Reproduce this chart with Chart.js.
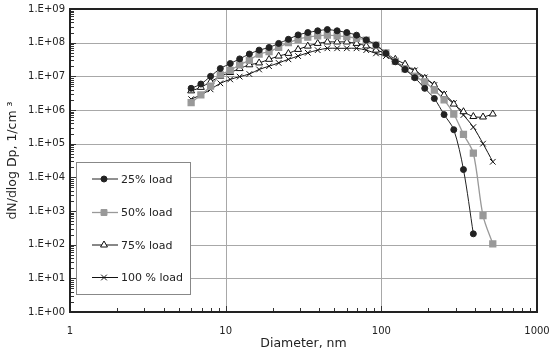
<!DOCTYPE html>
<html>
<head>
<meta charset="utf-8">
<script src="https://cdn.jsdelivr.net/npm/chart.js@4.4.0/dist/chart.umd.min.js"></script>
<style>
  html, body { margin: 0; padding: 0; background: #fff; }
  #wrap { width: 553px; height: 359px; }
</style>
</head>
<body>
<div id="wrap"><canvas id="chart"></canvas></div>
<script>
// particle diameters, nm (same channels for every load)
var diameters = [6.0, 6.93, 8.0, 9.24, 10.7, 12.3, 14.2, 16.4, 19.0, 21.9, 25.3, 29.2, 33.7, 39.0, 45.0, 52.0,
                 60.0, 69.3, 80.0, 92.4, 107, 123, 142, 164, 190, 219, 253, 292, 337, 390, 450, 520];

// dN/dlog Dp, 1/cm3
var load25 = [4.4e6, 5.9e6, 1.0e7, 1.7e7, 2.4e7, 3.3e7, 4.6e7, 6.0e7, 7.2e7, 9.5e7, 1.26e8, 1.7e8, 2.0e8, 2.25e8, 2.45e8, 2.25e8,
              2.0e8, 1.67e8, 1.2e8, 8.5e7, 4.8e7, 2.7e7, 1.6e7, 9.1e6, 4.4e6, 2.2e6, 7.3e5, 2.6e5, 1.7e4, 2.1e2];
var load50 = [1.65e6, 2.8e6, 5.1e6, 1.1e7, 1.5e7, 2.2e7, 3.0e7, 4.6e7, 5.4e7, 7.3e7, 1.0e8, 1.26e8, 1.45e8, 1.6e8, 1.67e8, 1.6e8,
              1.5e8, 1.35e8, 1.2e8, 8.5e7, 5.0e7, 2.8e7, 1.66e7, 1.0e7, 6.9e6, 3.9e6, 2.0e6, 7.6e5, 1.9e5, 5.2e4, 7.3e2, 1.05e2];
var load75 = [3.7e6, 4.7e6, 6.9e6, 1.0e7, 1.3e7, 1.7e7, 2.2e7, 2.5e7, 3.2e7, 4.0e7, 4.8e7, 6.3e7, 7.9e7, 9.5e7, 1.05e8, 1.05e8,
              1.05e8, 9.5e7, 8.0e7, 6.0e7, 4.8e7, 3.2e7, 2.3e7, 1.4e7, 8.7e6, 5.5e6, 2.8e6, 1.5e6, 8.9e5, 6.4e5, 6.2e5, 7.6e5];
var load100 = [2.1e6, 2.8e6, 4.1e6, 6.2e6, 8.1e6, 9.8e6, 1.17e7, 1.6e7, 2.0e7, 2.5e7, 3.2e7, 4.0e7, 5.0e7, 6.0e7, 6.8e7, 6.8e7,
               6.8e7, 6.8e7, 6.0e7, 4.8e7, 4.0e7, 2.7e7, 1.9e7, 1.5e7, 9.3e6, 5.5e6, 3.0e6, 1.6e6, 7.1e5, 3.1e5, 1.0e5, 2.9e4];

var seriesNames = ['25% load', '50% load', '75% load', '100 % load'];

var xTickValues = [1, 10, 100, 1000];
var xTickLabels = ['1', '10', '100', '1000'];
var yTickValues = [1, 10, 100, 1e3, 1e4, 1e5, 1e6, 1e7, 1e8, 1e9];
var yTickLabels = ['1.E+00', '1.E+01', '1.E+02', '1.E+03', '1.E+04', '1.E+05', '1.E+06', '1.E+07', '1.E+08', '1.E+09'];

function toPoints(values) {
    return values.map(function(v, i) { return { x: diameters[i], y: v }; });
}

var FONT = 'DejaVu Sans';

// grid lines under the curves
var gridPlugin = {
    id: 'grid',
    beforeDatasetsDraw: function(chart) {
        var ctx = chart.ctx, a = chart.chartArea;
        var xs = chart.scales.x, ys = chart.scales.y;
        ctx.save();
        ctx.strokeStyle = '#a8a8a8';
        ctx.lineWidth = 1;
        ctx.beginPath();
        xTickValues.forEach(function(v) {
            var px = Math.round(xs.getPixelForValue(v)) + 0.5;
            ctx.moveTo(px, a.top);
            ctx.lineTo(px, a.bottom);
        });
        yTickValues.forEach(function(v) {
            var py = Math.round(ys.getPixelForValue(v)) + 0.5;
            ctx.moveTo(a.left, py);
            ctx.lineTo(a.right, py);
        });
        ctx.stroke();
        ctx.restore();
    }
};

// frame, inner minor ticks and the boxed legend
var framePlugin = {
    id: 'frame',
    afterDatasetsDraw: function(chart) {
        var ctx = chart.ctx, a = chart.chartArea;
        var xs = chart.scales.x, ys = chart.scales.y;
        ctx.save();
        ctx.strokeStyle = '#333';
        ctx.lineWidth = 1;
        ctx.beginPath();
        for (var e = 0; e < 3; e++) {
            for (var d = 1; d <= 9; d++) {
                var px = Math.round(xs.getPixelForValue(d * Math.pow(10, e))) + 0.5;
                ctx.moveTo(px, a.bottom);
                ctx.lineTo(px, a.bottom - (d === 1 ? 6 : 4));
            }
        }
        for (var e2 = 0; e2 < 9; e2++) {
            for (var d2 = 1; d2 <= 9; d2++) {
                var py = Math.round(ys.getPixelForValue(d2 * Math.pow(10, e2))) + 0.5;
                ctx.moveTo(a.left, py);
                ctx.lineTo(a.left + (d2 === 1 ? 6 : 4), py);
            }
        }
        ctx.stroke();
        ctx.lineWidth = 2;
        ctx.strokeStyle = '#222';
        ctx.strokeRect(a.left, a.top, a.right - a.left, a.bottom - a.top);

        // legend box
        var bx = a.left + 6, by = 162, bw = 114, bh = 132;
        ctx.fillStyle = '#fff';
        ctx.fillRect(bx, by, bw, bh);
        ctx.lineWidth = 1;
        ctx.strokeStyle = '#888';
        ctx.strokeRect(bx + 0.5, by + 0.5, bw, bh);
        var rows = [179, 212.5, 245, 277.5];
        chart.data.datasets.forEach(function(ds, i) {
            var y = rows[i];
            ctx.strokeStyle = ds.borderColor;
            ctx.lineWidth = ds.borderWidth;
            ctx.beginPath();
            ctx.moveTo(bx + 16, y);
            ctx.lineTo(bx + 42, y);
            ctx.stroke();
            ctx.fillStyle = ds.pointBackgroundColor;
            ctx.strokeStyle = ds.pointBorderColor;
            ctx.lineWidth = 1;
            Chart.helpers.drawPoint(ctx, { pointStyle: ds.pointStyle, radius: ds.pointRadius, borderWidth: 1 }, bx + 28, y);
            ctx.fillStyle = '#222';
            ctx.font = '11px "' + FONT + '"';
            ctx.textBaseline = 'middle';
            ctx.textAlign = 'left';
            ctx.fillText(ds.label, bx + 45, y + 1);
        });
        ctx.restore();
    }
};

var ctx = document.getElementById('chart').getContext('2d');
var chart = new Chart(ctx, {
    type: 'line',
    data: {
        datasets: [
            { label: seriesNames[0], data: toPoints(load25), borderColor: '#222', borderWidth: 1,
              pointStyle: 'circle', pointRadius: 3, pointBackgroundColor: '#222', pointBorderColor: '#222' },
            { label: seriesNames[1], data: toPoints(load50), borderColor: '#999', borderWidth: 1.3,
              pointStyle: 'rect', pointRadius: 4.2, pointBackgroundColor: '#999', pointBorderColor: '#999' },
            { label: seriesNames[2], data: toPoints(load75), borderColor: '#111', borderWidth: 1,
              pointStyle: 'triangle', pointRadius: 4, pointBackgroundColor: '#fff', pointBorderColor: '#111' },
            { label: seriesNames[3], data: toPoints(load100), borderColor: '#111', borderWidth: 1,
              pointStyle: 'crossRot', pointRadius: 4, pointBackgroundColor: '#111', pointBorderColor: '#111' }
        ]
    },
    options: {
        responsive: true,
        maintainAspectRatio: false,
        animation: false,
        layout: { padding: { top: 9, right: 16, left: 5, bottom: 0 } },
        elements: { line: { tension: 0.3 }, point: { borderWidth: 1, hoverRadius: 4 } },
        plugins: { legend: { display: false }, tooltip: { enabled: false } },
        scales: {
            x: {
                type: 'logarithmic', min: 1, max: 1000,
                afterBuildTicks: function(scale) {
                    scale.ticks = xTickValues.map(function(v) { return { value: v }; });
                },
                afterFit: function(scale) {
                    scale.height = 47;
                    scale.paddingLeft = 0;
                    scale.paddingRight = 0;
                },
                ticks: {
                    autoSkip: false, maxRotation: 0, padding: 13, color: '#222',
                    font: { family: FONT, size: 10 },
                    callback: function(value, index) { return xTickLabels[index]; }
                },
                grid: { display: false, drawTicks: false },
                border: { display: false },
                title: { display: true, text: 'Diameter, nm', color: '#222',
                         font: { family: FONT, size: 12.5 }, padding: { top: 0, bottom: 8 } }
            },
            y: {
                type: 'logarithmic', min: 1, max: 1e9,
                afterBuildTicks: function(scale) {
                    scale.ticks = yTickValues.map(function(v) { return { value: v }; });
                },
                afterFit: function(scale) {
                    scale.width = 65;
                    scale.paddingTop = 0;
                    scale.paddingBottom = 0;
                },
                ticks: {
                    autoSkip: false, padding: 5, color: '#222',
                    font: { family: FONT, size: 10 },
                    callback: function(value, index) { return yTickLabels[index]; }
                },
                grid: { display: false, drawTicks: false },
                border: { display: false },
                title: { display: true, text: 'dN/dlog Dp, 1/cm \u00B3', color: '#222',
                         font: { family: FONT, size: 12.5 }, padding: { top: 0, bottom: 0 } }
            }
        }
    },
    plugins: [gridPlugin, framePlugin]
});
</script>
</body>
</html>
